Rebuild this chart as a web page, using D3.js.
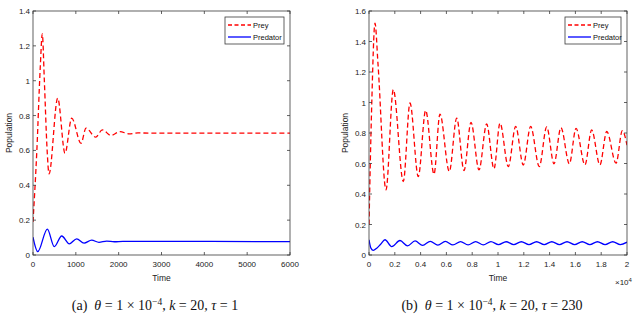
<!DOCTYPE html>
<html>
<head>
<meta charset="utf-8">
<script src="https://cdn.jsdelivr.net/npm/d3@7"></script>
<style>
  body { margin: 0; background: #fff; }
  svg { display: block; }
  .tick-label { font-family: "Liberation Sans", Arial, sans-serif; font-size: 8px; fill: #222; }
  .axis-title { font-family: "Liberation Sans", Arial, sans-serif; font-size: 8.5px; fill: #222; }
  .legend-text { font-family: "Liberation Sans", Arial, sans-serif; font-size: 7.5px; fill: #111; }
  .caption { font-family: "Liberation Serif", "Times New Roman", serif; font-size: 14px; fill: #111; }
</style>
</head>
<body>
<svg id="chart" width="640" height="324"></svg>
<script>
// Panel (a): tau = 1, time 0..6000
const timeTicksA = [0, 1000, 2000, 3000, 4000, 5000, 6000];
const popTicksA = [0, 0.2, 0.4, 0.6, 0.8, 1, 1.2, 1.4];
const preyA = [
  [0, 0.19], [90, 0.6], [170, 1.08], [217, 1.269], [265, 1.0], [330, 0.6],
  [374, 0.465], [577, 0.9], [747, 0.584], [904, 0.785], [1121, 0.641],
  [1238, 0.728], [1464, 0.676], [1618, 0.718], [1821, 0.686], [2031, 0.708],
  [2240, 0.695], [2450, 0.701], [2700, 0.699], [6000, 0.699]
];
const predA = [
  [0, 0.102], [110, 0.019], [334, 0.149], [497, 0.048], [670, 0.109],
  [848, 0.064], [1020, 0.093], [1191, 0.068], [1370, 0.085], [1540, 0.073],
  [1720, 0.08], [1900, 0.076], [2100, 0.078], [6000, 0.077]
];

// Panel (b): tau = 230, time 0..2e4
const timeTicksB = [0, 2000, 4000, 6000, 8000, 10000, 12000, 14000, 16000, 18000, 20000];
const timeTickLabelsB = ["0", "0.2", "0.4", "0.6", "0.8", "1", "1.2", "1.4", "1.6", "1.8", "2"];
const popTicksB = [0, 0.2, 0.4, 0.6, 0.8, 1, 1.2, 1.4, 1.6];
const preyB = [
  [0, 0.2], [200, 0.95], [465, 1.52], [700, 1.25], [1318, 0.427],
  [1884, 1.084], [2660, 0.482], [3178, 0.997], [3820, 0.514], [4393, 0.948],
  [5040, 0.53], [5500, 0.924], [6225, 0.547], [6800, 0.898], [7364, 0.554],
  [7907, 0.87], [8527, 0.558], [9120, 0.859], [9690, 0.565], [10155, 0.865],
  [10800, 0.58], [11370, 0.843], [11960, 0.59], [12530, 0.843], [13200, 0.58],
  [13775, 0.84], [14340, 0.598], [14880, 0.835], [15530, 0.598], [16050, 0.83],
  [16740, 0.591], [17260, 0.82], [17900, 0.591], [18430, 0.81], [19150, 0.602],
  [19640, 0.815], [20000, 0.72]
];
const predB = [
  [0, 0.1], [150, 0.045], [333, 0.03], [600, 0.045], [900, 0.07], [1240, 0.1],
  [1760, 0.055], [2400, 0.095], [2990, 0.06], [3570, 0.092], [4160, 0.063],
  [4750, 0.09], [5340, 0.065], [5920, 0.089], [6510, 0.066], [7100, 0.088],
  [7680, 0.067], [8270, 0.088], [8860, 0.067], [9450, 0.088], [10040, 0.068],
  [10630, 0.087], [11220, 0.068], [11810, 0.087], [12400, 0.068], [12990, 0.087],
  [13580, 0.068], [14170, 0.087], [14760, 0.068], [15350, 0.087], [15940, 0.068],
  [16530, 0.087], [17120, 0.068], [17710, 0.087], [18300, 0.068], [18890, 0.087],
  [19480, 0.068], [20000, 0.084]
];

const svg = d3.select("#chart");

function drawPanel(cfg) {
  const { x0, x1, y0, y1 } = cfg;
  const g = svg.append("g");

  const x = d3.scaleLinear().domain(cfg.xDomain).range([x0, x1]);
  const y = d3.scaleLinear().domain(cfg.yDomain).range([y1, y0]);

  // clip so nothing leaves the box
  const clipId = "clip-" + cfg.id;
  svg.append("clipPath").attr("id", clipId)
    .append("rect").attr("x", x0).attr("y", y0).attr("width", x1 - x0).attr("height", y1 - y0);

  const line = d3.line()
    .x(d => x(d[0]))
    .y(d => y(d[1]))
    .curve(d3.curveMonotoneX);

  const plot = g.append("g").attr("clip-path", `url(#${clipId})`);
  plot.append("path")
    .datum(cfg.prey)
    .attr("fill", "none")
    .attr("stroke", "#ff0000")
    .attr("stroke-width", 1.3)
    .attr("stroke-dasharray", "5,3")
    .attr("d", line);
  plot.append("path")
    .datum(cfg.pred)
    .attr("fill", "none")
    .attr("stroke", "#0000ff")
    .attr("stroke-width", 1.3)
    .attr("d", line);

  // MATLAB-style box with inward ticks on all sides
  const tickLen = 3;
  const axisColor = "#3a3a3a";
  g.append("rect")
    .attr("x", x0).attr("y", y0)
    .attr("width", x1 - x0).attr("height", y1 - y0)
    .attr("fill", "none").attr("stroke", axisColor).attr("stroke-width", 0.8);

  cfg.xTicks.forEach((t, i) => {
    const px = x(t);
    g.append("line").attr("x1", px).attr("x2", px).attr("y1", y1).attr("y2", y1 - tickLen)
      .attr("stroke", axisColor).attr("stroke-width", 0.8);
    g.append("line").attr("x1", px).attr("x2", px).attr("y1", y0).attr("y2", y0 + tickLen)
      .attr("stroke", axisColor).attr("stroke-width", 0.8);
    g.append("text").attr("class", "tick-label")
      .attr("x", px).attr("y", y1 + 12)
      .attr("text-anchor", "middle")
      .text(cfg.xTickLabels ? cfg.xTickLabels[i] : t);
  });

  cfg.yTicks.forEach(t => {
    const py = y(t);
    g.append("line").attr("x1", x0).attr("x2", x0 + tickLen).attr("y1", py).attr("y2", py)
      .attr("stroke", axisColor).attr("stroke-width", 0.8);
    g.append("line").attr("x1", x1).attr("x2", x1 - tickLen).attr("y1", py).attr("y2", py)
      .attr("stroke", axisColor).attr("stroke-width", 0.8);
    g.append("text").attr("class", "tick-label")
      .attr("x", x0 - 3).attr("y", py + 3)
      .attr("text-anchor", "end")
      .text(d3.format("~g")(t));
  });

  g.append("text").attr("class", "axis-title")
    .attr("x", (x0 + x1) / 2).attr("y", y1 + 26)
    .attr("text-anchor", "middle")
    .text("Time");

  g.append("text").attr("class", "axis-title")
    .attr("text-anchor", "middle")
    .attr("transform", `translate(${x0 - 21},${(y0 + y1) / 2}) rotate(-90)`)
    .text("Population");

  if (cfg.exponent) {
    const ex = g.append("text").attr("class", "tick-label")
      .attr("x", x1 - 12).attr("y", y1 + 30)
      .attr("fill", "#444");
    ex.append("tspan").text("×10");
    ex.append("tspan").attr("dy", -3).attr("font-size", 6).text(cfg.exponent);
  }

  // legend
  const lg = g.append("g").attr("transform", `translate(${x1 - cfg.legendW - 6},${y0 + 6})`);
  lg.append("rect").attr("width", cfg.legendW).attr("height", 27)
    .attr("fill", "#fff").attr("stroke", axisColor).attr("stroke-width", 0.8);
  const entries = [
    { name: "Prey", color: "#ff0000", dash: "4,2.5" },
    { name: "Predator", color: "#0000ff", dash: null }
  ];
  entries.forEach((e, i) => {
    const cy = 8 + i * 12;
    lg.append("line").attr("x1", 3).attr("x2", 26).attr("y1", cy).attr("y2", cy)
      .attr("stroke", e.color).attr("stroke-width", 1.3)
      .attr("stroke-dasharray", e.dash);
    lg.append("text").attr("class", "legend-text")
      .attr("x", 28).attr("y", cy + 2.5)
      .text(e.name);
  });

  // caption
  const cap = svg.append("text").attr("class", "caption")
    .attr("x", cfg.captionX).attr("y", 310)
    .attr("text-anchor", "middle");
  cap.append("tspan").text(`(${cfg.letter})\u2002`);
  cap.append("tspan").attr("font-style", "italic").text("θ");
  cap.append("tspan").text(" = 1 × 10");
  cap.append("tspan").attr("dy", -5).attr("font-size", 9.5).text("−4");
  cap.append("tspan").attr("dy", 5).text(", ");
  cap.append("tspan").attr("font-style", "italic").text("k");
  cap.append("tspan").text(" = 20, ");
  cap.append("tspan").attr("font-style", "italic").text("τ");
  cap.append("tspan").text(` = ${cfg.tau}`);
}

drawPanel({
  id: "a", letter: "a", tau: 1,
  x0: 33, x1: 290, y0: 11, y1: 255,
  xDomain: [0, 6000], yDomain: [0, 1.4],
  xTicks: timeTicksA, yTicks: popTicksA,
  prey: preyA, pred: predA,
  legendW: 59, captionX: 155
});

drawPanel({
  id: "b", letter: "b", tau: 230,
  x0: 369, x1: 627, y0: 11, y1: 255,
  xDomain: [0, 20000], yDomain: [0, 1.6],
  xTicks: timeTicksB, xTickLabels: timeTickLabelsB, yTicks: popTicksB,
  prey: preyB, pred: predB,
  legendW: 56, captionX: 492, exponent: "4"
});
</script>
</body>
</html>
